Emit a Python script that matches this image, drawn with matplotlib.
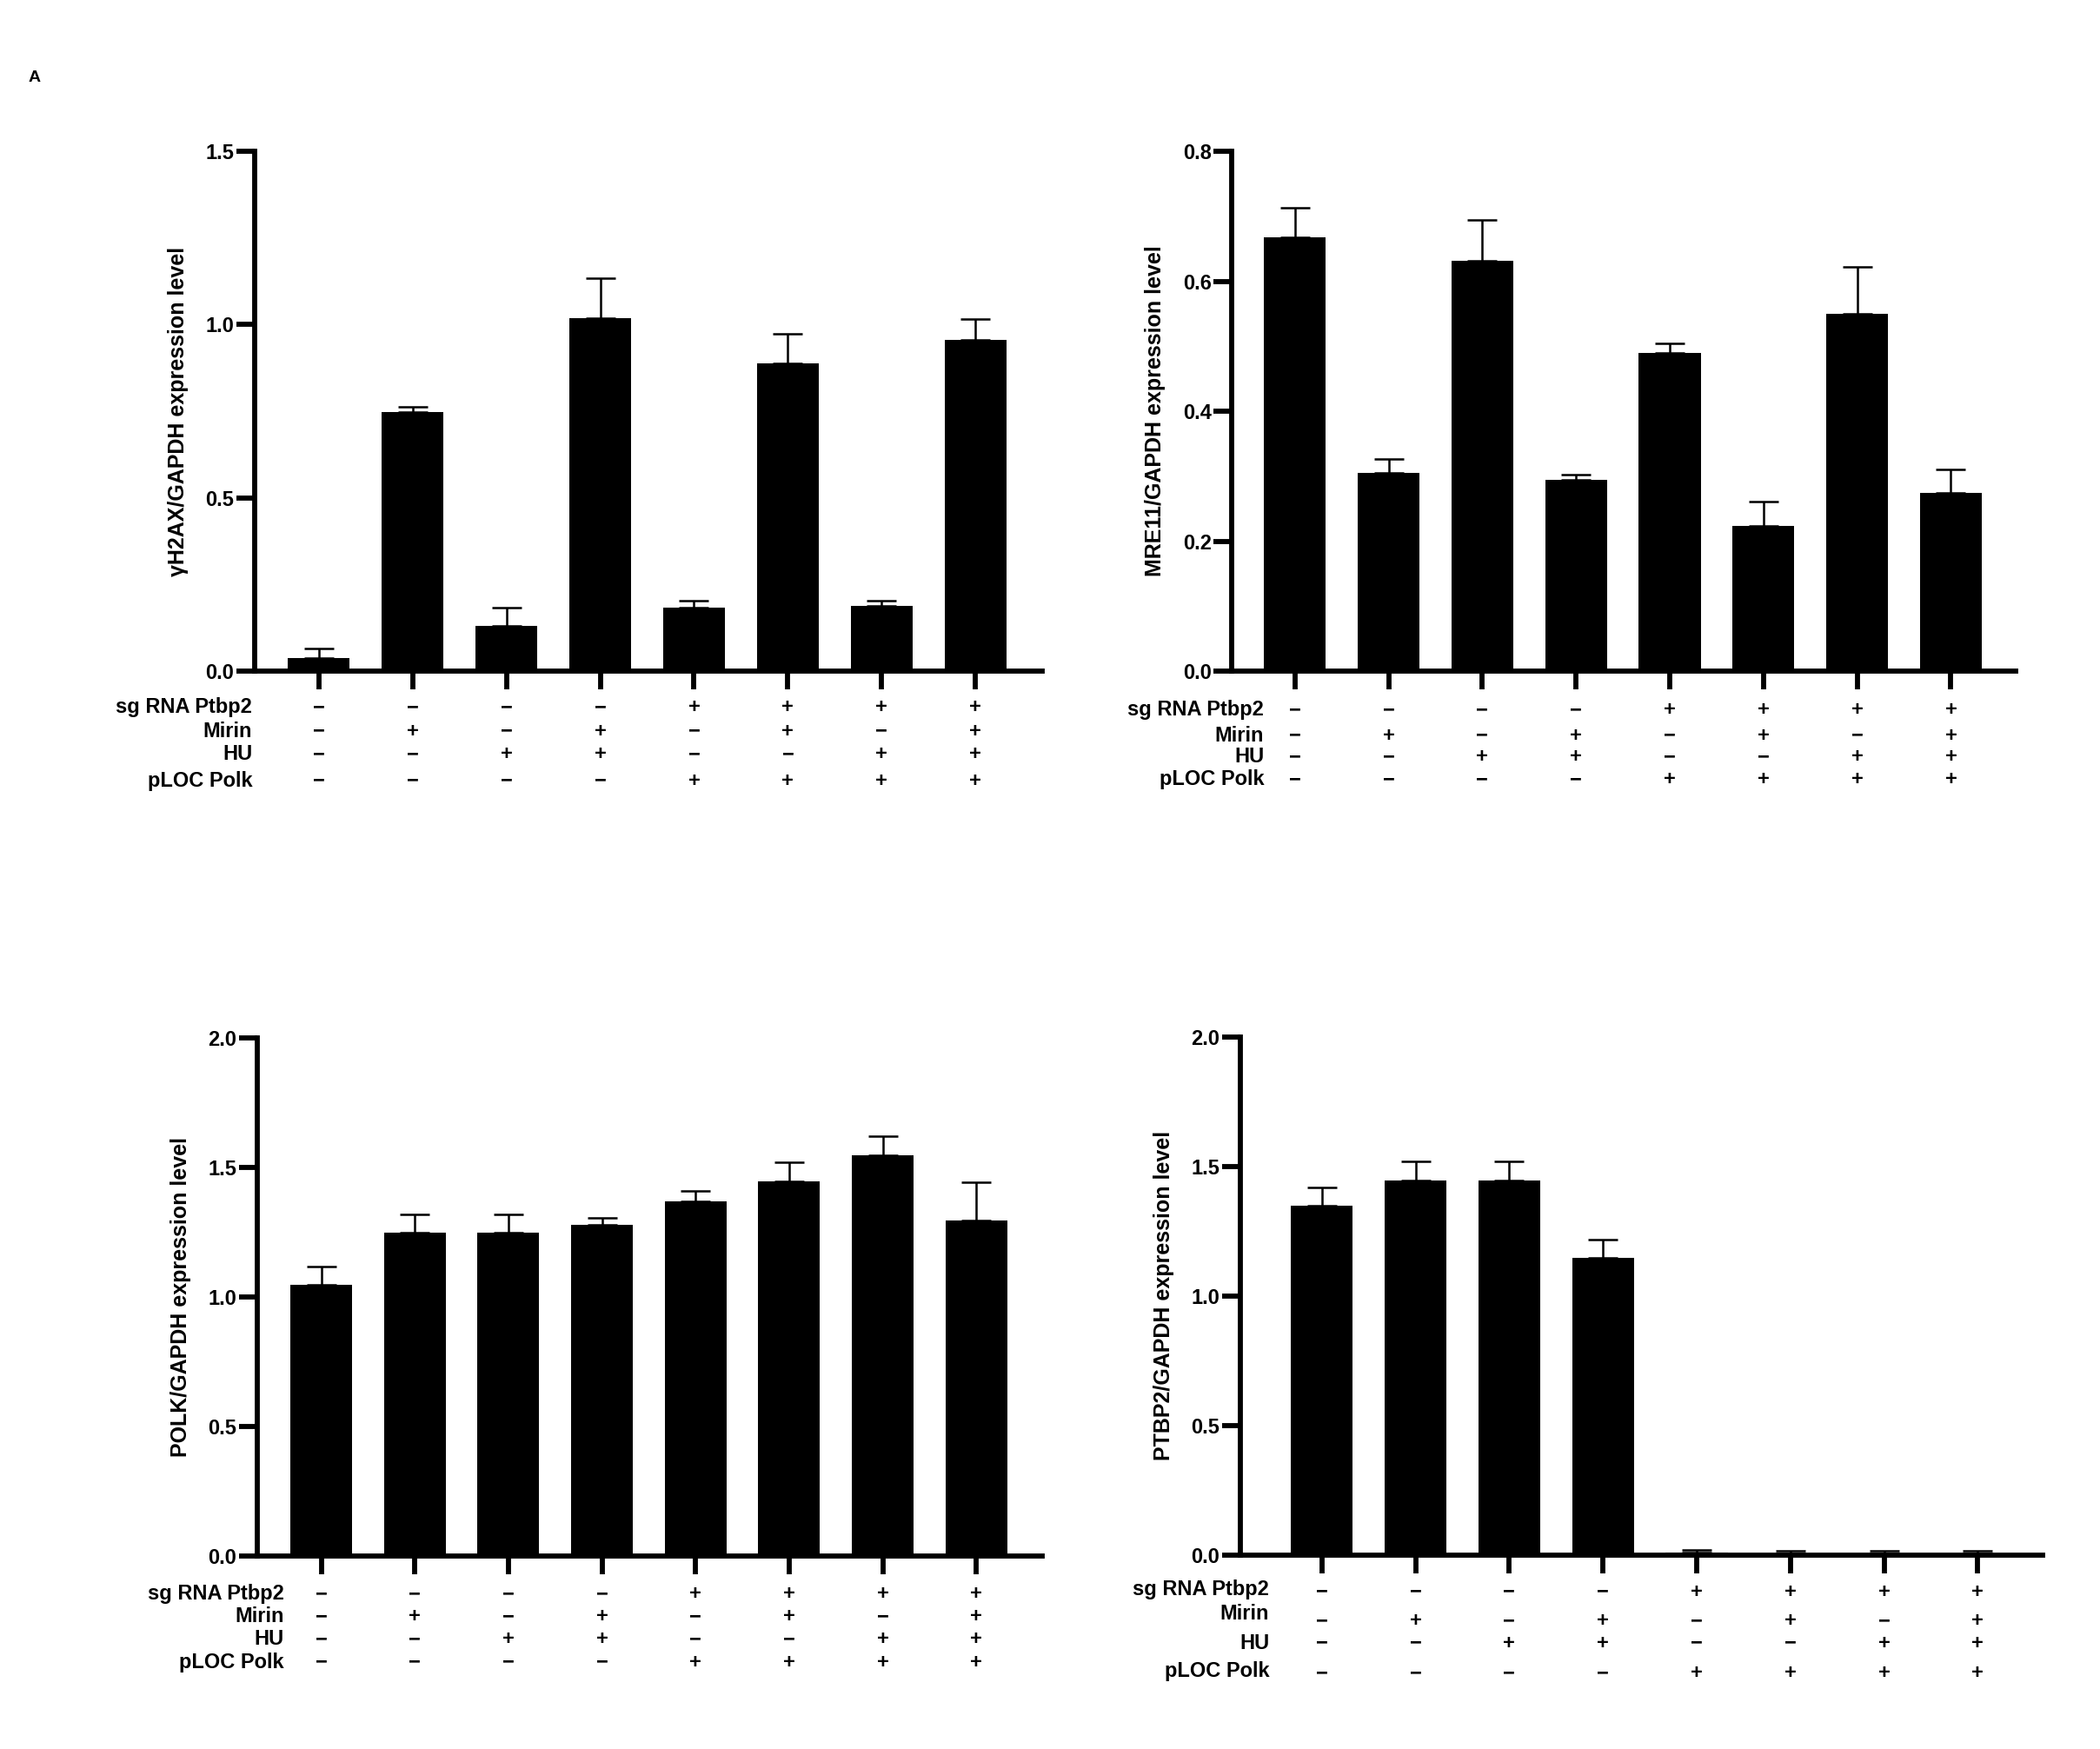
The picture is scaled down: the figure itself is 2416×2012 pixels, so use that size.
import matplotlib
matplotlib.use("Agg")
import matplotlib.pyplot as plt
from matplotlib import font_manager
import matplotlib.transforms as mtransforms

# datos
filas = ["sg RNA Ptbp2", "Mirin", "HU", "pLOC Polk"]
sg_rna = ["-", "-", "-", "-", "+", "+", "+", "+"]
mirin = ["-", "+", "-", "+", "-", "+", "-", "+"]
hu = ["-", "-", "+", "+", "-", "-", "+", "+"]
ploc = ["-", "-", "-", "-", "+", "+", "+", "+"]

h2ax_media = [0.037, 0.748, 0.131, 1.018, 0.183, 0.889, 0.187, 0.955]
h2ax_sup = [0.065, 0.764, 0.183, 1.134, 0.204, 0.973, 0.204, 1.017]

mre11_media = [0.668, 0.305, 0.632, 0.295, 0.490, 0.224, 0.550, 0.274]
mre11_sup = [0.713, 0.327, 0.694, 0.302, 0.505, 0.261, 0.622, 0.310]

polk_media = [1.048, 1.250, 1.250, 1.279, 1.369, 1.446, 1.547, 1.297]
polk_sup = [1.118, 1.321, 1.321, 1.306, 1.410, 1.520, 1.620, 1.443]

ptbp2_media = [1.348, 1.446, 1.446, 1.145, 0.009, 0.007, 0.006, 0.006]
ptbp2_sup = [1.418, 1.518, 1.518, 1.218, 0.021, 0.016, 0.017, 0.017]

nombres = {f.name for f in font_manager.fontManager.ttflist}
fuente_estrecha = "Liberation Sans Narrow" if "Liberation Sans Narrow" in nombres else "Liberation Sans"
fuente = "Liberation Sans"
plt.rcParams["font.family"] = [fuente, "DejaVu Sans"]
plt.rcParams["font.weight"] = "bold"

fig = plt.figure(figsize=(24.16, 20.12), dpi=100)

paneles = [
    # pos, xlim, ymax, yticks, ylabel, media, sup, label_x, filas_y, desplaz. simbolos
    ([0.1212, 0.6163, 0.375, 0.2971], (-0.686, 7.71), 1.5, [0, 0.5, 1.0, 1.5],
     "γH2AX/GAPDH expression level", h2ax_media, h2ax_sup, -0.71,
     [-0.070, -0.116, -0.160, -0.211], [0, 0, 0, 0]),
    ([0.5867, 0.6163, 0.3731, 0.2971], (-0.67, 7.69), 0.8, [0, 0.2, 0.4, 0.6, 0.8],
     "MRE11/GAPDH expression level", mre11_media, mre11_sup, -0.33,
     [-0.075, -0.124, -0.165, -0.209], [0, 0, 0, 0]),
    ([0.1224, 0.1101, 0.3737, 0.2964], (-0.686, 7.70), 2.0, [0, 0.5, 1.0, 1.5, 2.0],
     "POLK/GAPDH expression level", polk_media, polk_sup, -0.40,
     [-0.072, -0.116, -0.160, -0.204], [0, 0, 0, 0]),
    ([0.5906, 0.1109, 0.382, 0.2964], (-0.87, 7.69), 2.0, [0, 0.5, 1.0, 1.5, 2.0],
     "PTBP2/GAPDH expression level", ptbp2_media, ptbp2_sup, -0.56,
     [-0.067, -0.113, -0.170, -0.224], [-0.004, -0.014, 0, -0.004]),
]

simbolos = [sg_rna, mirin, hu, ploc]

for pos, xlim, ymax, yticks, ylabel, media, sup, label_x, filas_y, desp in paneles:
    ax = fig.add_axes(pos)
    x = list(range(len(media)))
    err = [s - m for s, m in zip(sup, media)]
    ax.bar(x, media, width=0.66, color="black", zorder=2)
    ax.errorbar(x, media, yerr=[[0] * len(err), err], fmt="none", ecolor="black",
                elinewidth=1.8, capsize=12, capthick=1.8, zorder=1)
    ax.set_xlim(*xlim)
    ax.set_ylim(0, ymax)
    ax.set_yticks(yticks)
    ax.set_yticklabels([f"{v:.1f}" for v in yticks], fontfamily=fuente_estrecha,
                       fontsize=17, fontweight="bold")
    ax.set_xticks(x)
    ax.set_xticklabels([])
    for lado in ["top", "right"]:
        ax.spines[lado].set_visible(False)
    for lado in ["left", "bottom"]:
        ax.spines[lado].set_linewidth(4.2)
    ax.tick_params(axis="x", length=15, width=4.2, direction="out")
    ax.tick_params(axis="y", length=15, width=4.2, direction="out", pad=2)
    ax.set_ylabel(ylabel, fontsize=18, fontweight="bold", labelpad=14)

    trans = mtransforms.blended_transform_factory(ax.transData, ax.transAxes)
    for fila, sims, fy, d in zip(filas, simbolos, filas_y, desp):
        ax.text(label_x, fy, fila, transform=trans, ha="right", va="center",
                fontsize=17, fontweight="bold", fontfamily=fuente_estrecha)
        for xi, s in zip(x, sims):
            ax.text(xi, fy + d, "+" if s == "+" else "\u2212", transform=trans,
                    ha="center", va="center", fontsize=17, fontweight="bold",
                    fontfamily=fuente)

fig.text(40 / 2416, 1 - 89 / 2012, "A", fontsize=14, fontweight="bold",
         ha="center", va="center")

fig.savefig("out.png", dpi=100, facecolor="white")
